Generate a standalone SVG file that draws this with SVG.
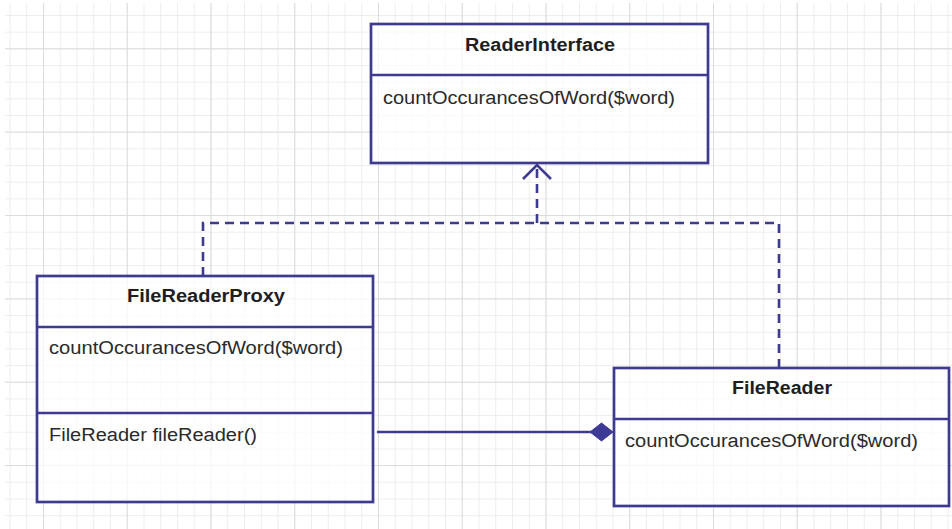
<svg xmlns="http://www.w3.org/2000/svg" width="952" height="529" viewBox="0 0 952 529">
  <defs>
    <pattern id="minor" patternUnits="userSpaceOnUse" x="9.5" y="15" width="16.75" height="16.67">
      <path d="M0,0 V16.67 M0,0 H16.75" fill="none" stroke="#e9e9e9" stroke-width="1.6"/>
    </pattern>
    <pattern id="major" patternUnits="userSpaceOnUse" x="43" y="48.3" width="83.75" height="83.35">
      <path d="M0,0 V83.35 M0,0 H83.75" fill="none" stroke="#dcdcdc" stroke-width="2"/>
    </pattern>
  </defs>
  <style>
    .box { fill: #ffffff; fill-opacity: 0.72; stroke: #3d3a8f; stroke-width: 2.7; }
    .sep { stroke: #3d3a8f; stroke-width: 2.7; fill: none; }
    .title { font-family: "Liberation Sans", Arial, sans-serif; font-size: 18px; font-weight: bold; fill: #1e1e1e; text-anchor: middle; }
    .member { font-family: "Liberation Sans", Arial, sans-serif; font-size: 18px; fill: #2a2a2a; }
    .dash { fill: none; stroke: #3d3a8f; stroke-width: 2.6; stroke-dasharray: 9 6; }
    .solid { fill: none; stroke: #3d3a8f; stroke-width: 2.6; }
  </style>
  <rect x="0" y="0" width="952" height="529" fill="#ffffff"/>
  <rect x="5" y="3" width="947" height="526" fill="url(#minor)"/>
  <rect x="5" y="3" width="947" height="526" fill="url(#major)"/>

  <g id="connectors">
    <path class="dash" d="M203,276 V223 H779 V368"/>
    <path class="dash" d="M537,223 V166"/>
    <polyline class="solid" points="523,179 537,165 551,179"/>
    <path class="solid" d="M377,432 H591"/>
    <polygon points="590,432 601.5,423 613,432 601.5,441" fill="#3d3a96" stroke="#3d3a96" stroke-width="1"/>
  </g>

  <g id="ReaderInterface">
    <rect class="box" x="371" y="24" width="337" height="139"/>
    <line class="sep" x1="371" y1="75" x2="708" y2="75"/>
    <text class="title" x="540" y="51" textLength="150" lengthAdjust="spacingAndGlyphs">ReaderInterface</text>
    <text class="member" x="383" y="104" textLength="292" lengthAdjust="spacingAndGlyphs">countOccurancesOfWord($word)</text>
  </g>

  <g id="FileReaderProxy">
    <rect class="box" x="37" y="276" width="336" height="226"/>
    <line class="sep" x1="37" y1="327" x2="373" y2="327"/>
    <line class="sep" x1="37" y1="413" x2="373" y2="413"/>
    <text class="title" x="206" y="302" textLength="158" lengthAdjust="spacingAndGlyphs">FileReaderProxy</text>
    <text class="member" x="49" y="354" textLength="294" lengthAdjust="spacingAndGlyphs">countOccurancesOfWord($word)</text>
    <text class="member" x="49" y="441" textLength="208" lengthAdjust="spacingAndGlyphs">FileReader fileReader()</text>
  </g>

  <g id="FileReader">
    <rect class="box" x="614" y="368" width="335" height="138"/>
    <line class="sep" x1="614" y1="419" x2="949" y2="419"/>
    <text class="title" x="782" y="394" textLength="100" lengthAdjust="spacingAndGlyphs">FileReader</text>
    <text class="member" x="625" y="447" textLength="293" lengthAdjust="spacingAndGlyphs">countOccurancesOfWord($word)</text>
  </g>
</svg>
